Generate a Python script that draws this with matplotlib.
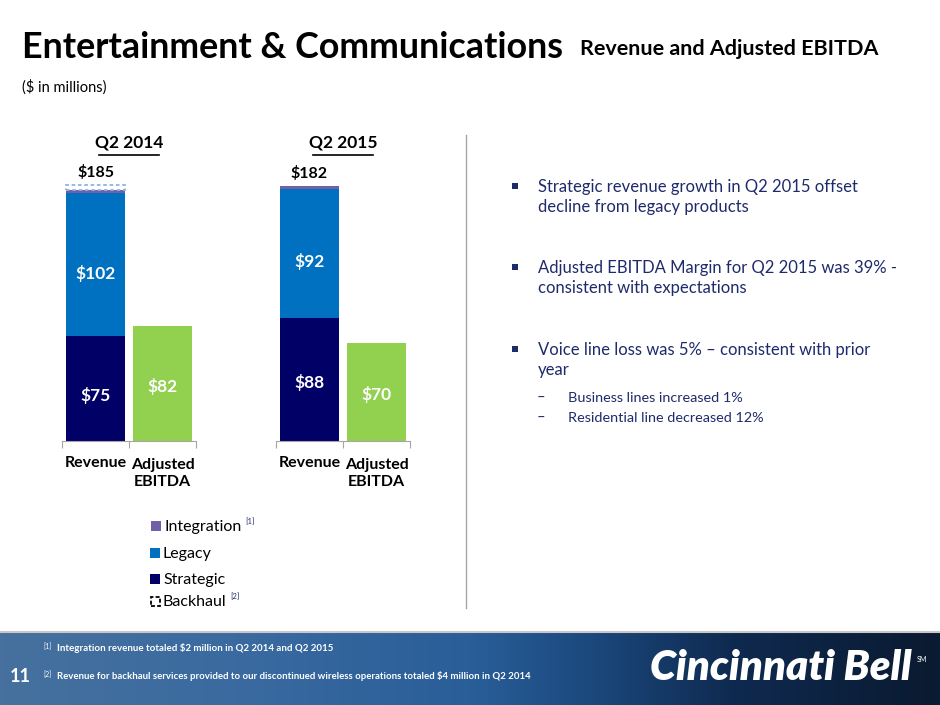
import matplotlib
matplotlib.use("Agg")
import matplotlib.pyplot as plt
from matplotlib.patches import Rectangle
from matplotlib.colors import LinearSegmentedColormap
import numpy as np

plt.rcParams['font.family'] = ['Lato', 'DejaVu Sans']

# data ($ in millions)
periods = ["Q2 2014", "Q2 2015"]
categories = ["Revenue", "Adjusted\nEBITDA"]
strategic = [75, 88]
legacy = [102, 92]
integration = [2, 2]
backhaul = [4, 0]
ebitda = [82, 70]
totals = ["$185", "$182"]

bullets = [
    "Strategic revenue growth in Q2 2015 offset\ndecline from legacy products",
    "Adjusted EBITDA Margin for Q2 2015 was 39% -\nconsistent with expectations",
    "Voice line loss was 5% \u2013 consistent with prior\nyear",
]
sub_bullets = ["Business lines increased 1%", "Residential line decreased 12%"]
footnotes = ["Integration revenue totaled $2 million in Q2 2014 and Q2 2015",
             "Revenue for backhaul services provided to our discontinued wireless operations totaled $4 million in Q2 2014"]

C_STRAT = "#010066"
C_LEGACY = "#0070C0"
C_INTEG = "#7060A8"
C_EBITDA = "#92D050"
C_BACK = "#8DB4E2"
C_TEXT = "#1F2A6B"

W, H = 940, 705
fig = plt.figure(figsize=(W / 100, H / 100), dpi=100)


def px(x, y):
    return x / W, 1 - y / H


def fit(t, width_px):
    # shrink font so text spans the given pixel width
    r = fig.canvas.get_renderer()
    w = t.get_window_extent(r).width
    t.set_fontsize(t.get_fontsize() * width_px / w)


# title
t = fig.text(*px(22, 47), "Entertainment & Communications", fontsize=26, weight="bold",
             va="center", ha="left", color="black")
fit(t, 543)
t = fig.text(*px(580, 49), "Revenue and Adjusted EBITDA", fontsize=15, weight="bold",
             va="center", ha="left", color="black")
fit(t, 298)
t = fig.text(*px(22, 87), "($ in millions)", fontsize=11, va="center", ha="left", color="black")
fit(t, 84)

# charts
ax_left = [62, 276]
for i in range(2):
    l, b = px(ax_left[i], 441)
    ax = fig.add_axes([l, b, 134 / W, 280 / H])
    ax.set_xlim(-0.5, 1.5)
    ax.set_ylim(0, 200)
    bw = 0.88
    ax.bar(0, strategic[i], bw, color=C_STRAT)
    ax.bar(0, legacy[i], bw, bottom=strategic[i], color=C_LEGACY)
    ax.bar(0, integration[i], bw, bottom=strategic[i] + legacy[i], color=C_INTEG)
    top = strategic[i] + legacy[i] + integration[i]
    if backhaul[i]:
        ax.bar(0, backhaul[i], bw, bottom=top, fill=False, edgecolor=C_BACK,
               linestyle=(0, (2, 1.5)), linewidth=1.3)
        top += backhaul[i]
    ax.bar(1, ebitda[i], bw, color=C_EBITDA)
    lab = dict(color="white", weight="bold", fontsize=12.5, ha="center", va="center")
    ax.text(0, strategic[i] * 0.5 - 5 + (3 if i else 0), f"${strategic[i]}", **lab)
    ax.text(0, strategic[i] + legacy[i] * 0.44, f"${legacy[i]}", **lab)
    ax.text(1, ebitda[i] * 0.5 - 2, f"${ebitda[i]}", **lab)
    ax.text(0, top + 9, totals[i], color="black", weight="bold", fontsize=11.5,
            ha="center", va="center")
    ax.text(0.5, 213, periods[i], color="black", weight="bold", fontsize=12.5,
            ha="center", va="center")
    ax.plot([0.5 - 0.45, 0.5 + 0.45], [204.5, 204.5], color="black", lw=1.2, clip_on=False)
    for s in ["top", "right", "left"]:
        ax.spines[s].set_visible(False)
    ax.spines["bottom"].set_color("#A6A6A6")
    ax.set_yticks([])
    ax.set_xticks([-0.5, 0.5, 1.5])
    ax.set_xticklabels([])
    ax.tick_params(axis="x", direction="out", length=5, color="#A6A6A6")
    ax.text(0, -16, categories[0], color="black", weight="bold", fontsize=11.5,
            ha="center", va="center")
    ax.text(1, -23, categories[1], color="black", weight="bold", fontsize=11.5,
            ha="center", va="center", linespacing=1.3)

# legend
leg = [("Integration", C_INTEG, 526, True, "[1]"),
       ("Legacy", C_LEGACY, 553, True, None),
       ("Strategic", C_STRAT, 579, True, None),
       ("Backhaul", C_BACK, 601, False, "[2]")]
for name, c, y, filled, sup in leg:
    x0 = 151 if name == "Integration" else 150
    if filled:
        fig.patches.append(Rectangle(px(x0, y + 5), 10 / W, 10 / H, transform=fig.transFigure,
                                     facecolor=c, edgecolor="none"))
    else:
        fig.patches.append(Rectangle(px(x0 + 1, y + 4.5), 9 / W, 9 / H, transform=fig.transFigure,
                                     facecolor="none", edgecolor="black", lw=1.3,
                                     linestyle=(0, (2.2, 1.2))))
    tt = fig.text(*px(x0 + 13, y + 1), name, fontsize=11.5, color="black", ha="left", va="center")
    if sup:
        r = fig.canvas.get_renderer()
        e = tt.get_window_extent(r)
        fig.text((e.x1 + 4) / W, 1 - (y - 4) / H, sup, fontsize=5.5, color=C_TEXT,
                 ha="left", va="center")

# divider
fig.add_artist(plt.Line2D([466 / W, 466 / W], [1 - 135 / H, 1 - 608 / H],
                          color="#A6A6A6", lw=1, transform=fig.transFigure))

# bullets
bullet_y = [197, 278, 360]
for y, txt in zip(bullet_y, bullets):
    fig.patches.append(Rectangle(px(512, y - 8), 6 / W, 6 / H, transform=fig.transFigure,
                                 facecolor=C_TEXT, edgecolor="none"))
    tb = fig.text(*px(538, y), txt, fontsize=12, color=C_TEXT, ha="left", va="center",
                  linespacing=1.3)
for y, txt in zip([398, 418], sub_bullets):
    fig.text(*px(537, y), "\u2013", fontsize=10.5, color=C_TEXT, ha="left", va="center")
    fig.text(*px(568, y), txt, fontsize=10.4, color=C_TEXT, ha="left", va="center")

# footer band
cmap = LinearSegmentedColormap.from_list("band", [
    (0.0, "#46719e"), (0.25, "#3a6aa0"), (0.5, "#2a5e98"), (0.62, "#1c4a80"),
    (0.78, "#0f2a50"), (1.0, "#0a1a30")])
grad = np.linspace(0, 1, 256).reshape(1, -1)
fax = fig.add_axes([0, 0, 1, 73 / H])
fax.imshow(grad, aspect="auto", cmap=cmap, extent=[0, 1, 0, 1])
fax.set_axis_off()
fig.add_artist(plt.Line2D([0, 1], [73 / H, 73 / H], color="#c8c8c8", lw=1.5,
                          transform=fig.transFigure))

fig.text(*px(10, 676), "11", fontsize=13, weight="bold", color="white", ha="left", va="center")
for y, lab, txt in zip([648, 676], ["[1]", "[2]"], footnotes):
    fig.text(*px(43, y - 1), lab, fontsize=5, color="white", ha="left", va="center")
    ft = fig.text(*px(57, y), txt, fontsize=7, weight="bold", color="white", ha="left", va="center")
fit(ft, 473)
t = fig.text(*px(650, 668), "Cincinnati Bell", fontsize=26, weight="heavy", style="italic",
             color="white", ha="left", va="center")
fit(t, 262)
fig.text(*px(917, 659), "SM", fontsize=5, color="white", ha="left", va="center")

fig.savefig("out.png", dpi=100)
